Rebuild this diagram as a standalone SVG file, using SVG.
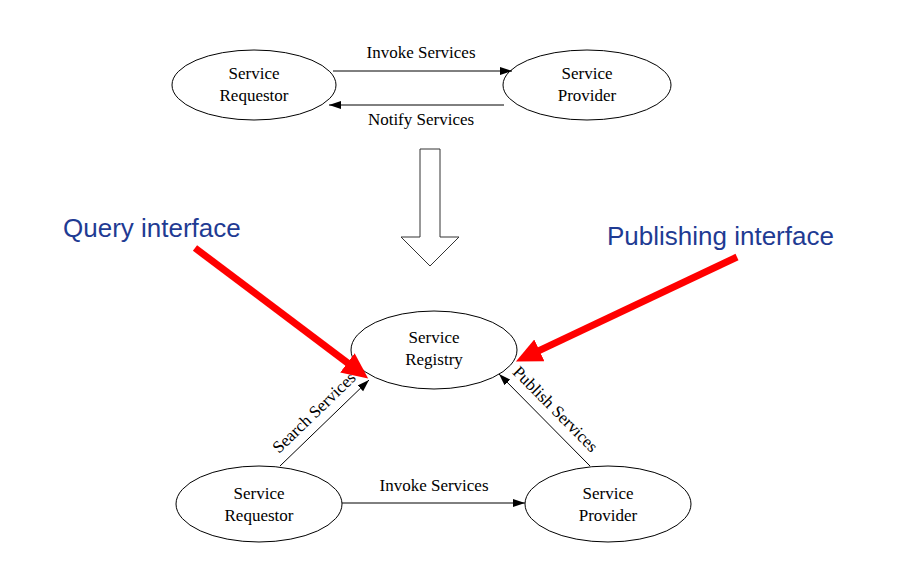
<svg xmlns="http://www.w3.org/2000/svg" width="899" height="570" viewBox="0 0 899 570">
<style>
.node{fill:#fff;stroke:#000;stroke-width:1}
.t{font-family:"Liberation Serif","Times New Roman",serif;font-size:17px;fill:#000;text-anchor:middle}
.edge{stroke:#000;stroke-width:1;fill:none;marker-end:url(#ah)}
.red{stroke:#ff0000;stroke-width:7;fill:none;marker-end:url(#rh)}
.lbl{font-family:"Liberation Sans",Arial,sans-serif;font-size:26px;fill:#1f3b93}
</style>
<defs>
<marker id="ah" markerUnits="userSpaceOnUse" markerWidth="13" markerHeight="9" refX="12" refY="4" orient="auto">
<path d="M0,0 L12,4 L0,8 z" fill="#000"/>
</marker>
<marker id="rh" markerUnits="userSpaceOnUse" markerWidth="28" markerHeight="26" refX="1" refY="12" orient="auto">
<path d="M0,0 L26,12 L0,24 z" fill="#ff0000"/>
</marker>
</defs>
<rect width="899" height="570" fill="#fff"/>
<g id="top-requestor">
<ellipse class="node" cx="254" cy="85" rx="82" ry="35"/>
<text class="t" x="254" y="79">Service</text>
<text class="t" x="254" y="101">Requestor</text>
</g>
<g id="top-provider">
<ellipse class="node" cx="587" cy="85" rx="84" ry="35"/>
<text class="t" x="587" y="79">Service</text>
<text class="t" x="587" y="101">Provider</text>
</g>
<g id="transform-arrow">
<polygon points="420,149 440,149 440,237 459,237 430,266 401,237 420,237" fill="#fff" stroke="#333" stroke-width="1"/>
</g>
<g id="registry">
<ellipse class="node" cx="434" cy="350" rx="83" ry="39"/>
<text class="t" x="434" y="343">Service</text>
<text class="t" x="434" y="365">Registry</text>
</g>
<g id="bottom-requestor">
<ellipse class="node" cx="259" cy="504" rx="83" ry="38"/>
<text class="t" x="259" y="499">Service</text>
<text class="t" x="259" y="521">Requestor</text>
</g>
<g id="bottom-provider">
<ellipse class="node" cx="608" cy="504" rx="83" ry="38"/>
<text class="t" x="608" y="499">Service</text>
<text class="t" x="608" y="521">Provider</text>
</g>
<g id="connectors">
<line class="edge" x1="333" y1="71" x2="512" y2="71"/>
<text class="t" x="421" y="58">Invoke Services</text>
<line class="edge" x1="504" y1="105" x2="329" y2="105"/>
<text class="t" x="421" y="125">Notify Services</text>
<line class="edge" x1="342" y1="503" x2="525" y2="503"/>
<text class="t" x="434" y="491">Invoke Services</text>
<line class="edge" x1="280" y1="466" x2="369" y2="380"/>
<text class="t" transform="translate(318,416.5) rotate(-44)">Search Services</text>
<line class="edge" x1="590" y1="466" x2="499" y2="374"/>
<text class="t" transform="translate(551.5,413) rotate(45.3)">Publish Services</text>
</g>
<g id="query-interface">
<text class="lbl" x="63" y="237">Query interface</text>
<line class="red" x1="195" y1="248" x2="348.2" y2="363.4"/>
</g>
<g id="publishing-interface">
<text class="lbl" x="607" y="245">Publishing interface</text>
<line class="red" x1="737" y1="257" x2="538.5" y2="350.9"/>
</g>
</svg>
